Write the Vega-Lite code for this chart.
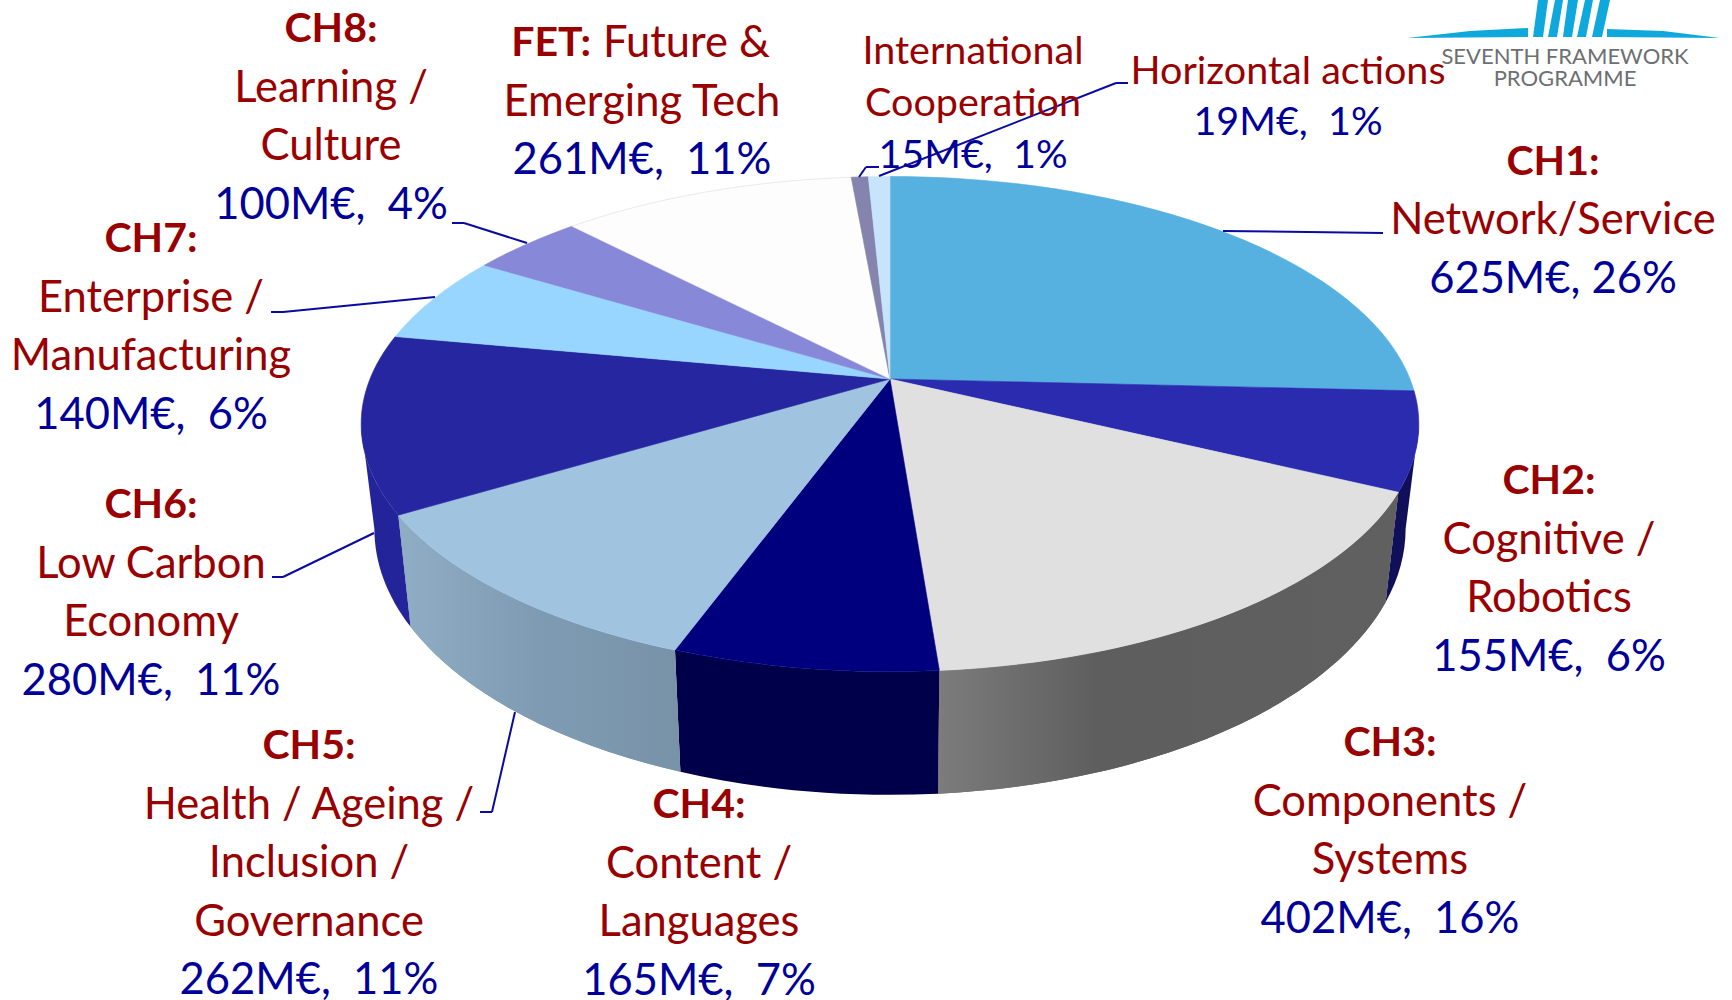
{
"$schema":"https://vega.github.io/schema/vega-lite/v6.json",
"autosize":{"type":"fit","contains":"padding"},
"width":1732,"height":1000,"padding":0,"background":"white",
"config":{"view":{"stroke":null}},
"params":[
{"name":"labelX","value":{"CH1":1553,"CH2":1549,"CH3":1390,"CH4":699,"CH5":309,"CH6":151,"CH7":151,"CH8":331,"FET":642,"FETb":591,"FETf":603,"INT":973,"HOR":1288,"LOGO":1565}},
{"name":"labelY","value":{"CH1":162.5,"CH2":482,"CH3":744,"CH4":806,"CH5":747,"CH6":506,"CH7":240,"CH8":30,"FET":44,"FETb":44,"FETf":44,"INT":52,"HOR":72,"LOGO":57}},
{"name":"leaders","value":{"CH1":[1223,231,1383,233],"CH5a":[515,712,492,812],"CH5b":[492,812,480,812],"CH6a":[374,533,283,577],"CH6b":[283,577,272,577],"CH7a":[435,297,283,312],"CH7b":[283,312,271,312],"CH8a":[527,243,464,223],"CH8b":[464,223,452,223],"INTa":[859,177,866,167],"INTb":[866,167,879,167],"HORa":[879,176,1116,83],"HORb":[1116,83,1128,83]}}
],
"datasets":{
"slices":[
{"slice":"CH1","order":1,"value":625,"share":26},
{"slice":"CH2","order":2,"value":155,"share":6},
{"slice":"CH3","order":3,"value":402,"share":16},
{"slice":"CH4","order":4,"value":165,"share":7},
{"slice":"CH5","order":5,"value":262,"share":11},
{"slice":"CH6","order":6,"value":280,"share":11},
{"slice":"CH7","order":7,"value":140,"share":6},
{"slice":"CH8","order":8,"value":100,"share":4},
{"slice":"FET","order":9,"value":261,"share":11},
{"slice":"International Cooperation","order":10,"value":15,"share":1},
{"slice":"Horizontal actions","order":11,"value":19,"share":1}
],
"labels":[
{"block":"CH1","line":0,"role":"title","text":"CH1:"},
{"block":"CH1","line":1,"role":"name","text":"Network/Service"},
{"block":"CH1","line":2,"role":"amount","text":"625M€, 26%"},
{"block":"CH2","line":0,"role":"title","text":"CH2:"},
{"block":"CH2","line":1,"role":"name","text":"Cognitive /"},
{"block":"CH2","line":2,"role":"name","text":"Robotics"},
{"block":"CH2","line":3,"role":"amount","text":"155M€,\u00a0 6%"},
{"block":"CH3","line":0,"role":"title","text":"CH3:"},
{"block":"CH3","line":1,"role":"name","text":"Components /"},
{"block":"CH3","line":2,"role":"name","text":"Systems"},
{"block":"CH3","line":3,"role":"amount","text":"402M€,\u00a0 16%"},
{"block":"CH4","line":0,"role":"title","text":"CH4:"},
{"block":"CH4","line":1,"role":"name","text":"Content /"},
{"block":"CH4","line":2,"role":"name","text":"Languages"},
{"block":"CH4","line":3,"role":"amount","text":"165M€,\u00a0 7%"},
{"block":"CH5","line":0,"role":"title","text":"CH5:"},
{"block":"CH5","line":1,"role":"name","text":"Health / Ageing /"},
{"block":"CH5","line":2,"role":"name","text":"Inclusion /"},
{"block":"CH5","line":3,"role":"name","text":"Governance"},
{"block":"CH5","line":4,"role":"amount","text":"262M€,\u00a0 11%"},
{"block":"CH6","line":0,"role":"title","text":"CH6:"},
{"block":"CH6","line":1,"role":"name","text":"Low Carbon"},
{"block":"CH6","line":2,"role":"name","text":"Economy"},
{"block":"CH6","line":3,"role":"amount","text":"280M€,\u00a0 11%"},
{"block":"CH7","line":0,"role":"title","text":"CH7:"},
{"block":"CH7","line":1,"role":"name","text":"Enterprise /"},
{"block":"CH7","line":2,"role":"name","text":"Manufacturing"},
{"block":"CH7","line":3,"role":"amount","text":"140M€,\u00a0 6%"},
{"block":"CH8","line":0,"role":"title","text":"CH8:"},
{"block":"CH8","line":1,"role":"name","text":"Learning /"},
{"block":"CH8","line":2,"role":"name","text":"Culture"},
{"block":"CH8","line":3,"role":"amount","text":"100M€,\u00a0 4%"},
{"block":"FETb","line":0,"role":"title","text":"FET:"},
{"block":"FETf","line":0,"role":"name","text":"Future &"},
{"block":"FET","line":1,"role":"name","text":"Emerging Tech"},
{"block":"FET","line":2,"role":"amount","text":"261M€,\u00a0 11%"},
{"block":"INT","line":0,"role":"name","text":"International"},
{"block":"INT","line":1,"role":"name","text":"Cooperation"},
{"block":"INT","line":2,"role":"amount","text":"15M€,\u00a0 1%"},
{"block":"HOR","line":0,"role":"name","text":"Horizontal actions"},
{"block":"HOR","line":1,"role":"amount","text":"19M€,\u00a0 1%"},
{"block":"LOGO","line":0,"role":"logo","text":"SEVENTH FRAMEWORK"},
{"block":"LOGO","line":1,"role":"logo","text":"PROGRAMME"}
],
"segments":[{"s":"CH1"},{"s":"CH5a"},{"s":"CH5b"},{"s":"CH6a"},{"s":"CH6b"},{"s":"CH7a"},{"s":"CH7b"},{"s":"CH8a"},{"s":"CH8b"},{"s":"INTa"},{"s":"INTb"},{"s":"HORa"},{"s":"HORb"}],
"logo":[{"part":"emblem"}]
},
"data":{"name":"slices"},
"transform":[
{"window":[{"op":"sum","field":"value","as":"end"}],"sort":[{"field":"order","order":"ascending"}]},
{"joinaggregate":[{"op":"sum","field":"value","as":"total"}]},
{"calculate":"2*PI*(datum.end-datum.value)/datum.total","as":"a1"},
{"calculate":"2*PI*datum.end/datum.total","as":"a2"}
],
"layer":[
{
"transform":[
{"calculate":"max(datum.a1,1.7538)","as":"w1"},
{"calculate":"min(datum.a2,4.5294)","as":"w2"},
{"filter":"datum.w1<datum.w2"},
{"calculate":"520*sin(datum.w1)/(1+0.182*cos(datum.w1))","as":"x1"},
{"calculate":"-247.5*(cos(datum.w1)+0.182)/(1+0.182*cos(datum.w1))","as":"y1"},
{"calculate":"520*sin(datum.w2)/(1+0.182*cos(datum.w2))","as":"x2"},
{"calculate":"-247.5*(cos(datum.w2)+0.182)/(1+0.182*cos(datum.w2))","as":"y2"},
{"calculate":"'M'+round(datum.x1*100)/100+' '+round(datum.y1*100)/100+'A529 247.5 0 0 1 '+round(datum.x2*100)/100+' '+round(datum.y2*100)/100+'L'+round(datum.x2*97.5)/100+' '+round((datum.y2*1.074+105)*100)/100+'A516 266 0 0 0 '+round(datum.x1*97.5)/100+' '+round((datum.y1*1.074+105)*100)/100+'Z'","as":"wallPath"}
],
"layer":[
{
"mark":{"type":"point","filled":true,"opacity":1,"x":890,"y":424,"size":4},
"encoding":{
"shape":{"field":"wallPath","type":"nominal","scale":null},
"fill":{"field":"slice","type":"nominal","legend":null,"scale":{"domain":["CH2","CH3","CH4","CH5","CH6"],"range":["#10105A","#646464","#00004A","#829CB2","#23239A"]}}
}
},
{
"transform":[{"filter":"datum.slice=='CH3'"}],
"mark":{"type":"point","filled":true,"opacity":1,"x":890,"y":424,"size":4,"fill":{"gradient":"linear","x1":0,"y1":0,"x2":1,"y2":0,"stops":[{"offset":0,"color":"#7C7C7C"},{"offset":0.35,"color":"#5E5E5E"},{"offset":1,"color":"#606060"}]}},
"encoding":{"shape":{"field":"wallPath","type":"nominal","scale":null}}
},
{
"transform":[{"filter":"datum.slice=='CH5'"}],
"mark":{"type":"point","filled":true,"opacity":1,"x":890,"y":424,"size":4,"fill":{"gradient":"linear","x1":0,"y1":0,"x2":1,"y2":0,"stops":[{"offset":0,"color":"#8FADC4"},{"offset":0.5,"color":"#7F9BB3"},{"offset":1,"color":"#7893A8"}]}},
"encoding":{"shape":{"field":"wallPath","type":"nominal","scale":null}}
}
]
},
{
"transform":[
{"calculate":"520*sin(datum.a1)/(1+0.182*cos(datum.a1))","as":"x1"},
{"calculate":"-247.5*(cos(datum.a1)+0.182)/(1+0.182*cos(datum.a1))","as":"y1"},
{"calculate":"520*sin(datum.a2)/(1+0.182*cos(datum.a2))","as":"x2"},
{"calculate":"-247.5*(cos(datum.a2)+0.182)/(1+0.182*cos(datum.a2))","as":"y2"},
{"calculate":"'M0 -45L'+round(datum.x1*100)/100+' '+round(datum.y1*100)/100+'A529 247.5 0 0 1 '+round(datum.x2*100)/100+' '+round(datum.y2*100)/100+'Z'","as":"topPath"}
],
"mark":{"type":"point","filled":true,"opacity":1,"x":890,"y":424,"size":4,"strokeWidth":0.6},
"encoding":{
"shape":{"field":"topPath","type":"nominal","scale":null},
"color":{"field":"slice","type":"nominal","legend":null,"scale":{"domain":["CH1","CH2","CH3","CH4","CH5","CH6","CH7","CH8","FET","International Cooperation","Horizontal actions"],"range":["#56B0E0","#2B2BB0","#E0E0E0","#00007F","#A0C4E0","#2626A0","#99D6FF","#8888D8","#FDFDFD","#8484AE","#C8E4FC"]}},
"stroke":{"field":"slice","type":"nominal","legend":null,"scale":{"domain":["CH1","CH2","CH3","CH4","CH5","CH6","CH7","CH8","FET","International Cooperation","Horizontal actions"],"range":["#56B0E0","#2B2BB0","#E0E0E0","#00007F","#A0C4E0","#2626A0","#99D6FF","#8888D8","#DCDCDC","#8484AE","#C8E4FC"]}}
}
},
{
"data":{"name":"segments"},
"transform":[],
"mark":{"type":"rule","color":"#0A0AA0","strokeWidth":2},
"encoding":{
"x":{"value":{"expr":"leaders[datum.s][0]"}},
"y":{"value":{"expr":"leaders[datum.s][1]"}},
"x2":{"value":{"expr":"leaders[datum.s][2]"}},
"y2":{"value":{"expr":"leaders[datum.s][3]"}}
}
},
{
"data":{"name":"labels"},
"transform":[{"filter":"datum.role!='title'"}],
"mark":{"type":"text","font":"Lato",
"x":{"expr":"labelX[datum.block]"},
"y":{"expr":"labelY[datum.block]+(datum.block=='INT'?52:datum.block=='HOR'?51:datum.block=='LOGO'?22:58.6)*datum.line"},
"align":{"expr":"datum.block=='FETf'?'left':'center'"},
"fontSize":{"expr":"datum.block=='LOGO'?22:datum.block=='INT'||datum.block=='HOR'?39.5:43.5"}},
"encoding":{
"text":{"field":"text","type":"nominal"},
"color":{"field":"role","type":"nominal","legend":null,"scale":{"domain":["name","amount","logo"],"range":["#990000","#000099","#6D6F72"]}}
}
},
{
"data":{"name":"labels"},
"transform":[{"filter":"datum.role=='title'"}],
"mark":{"type":"text","font":"Lato","fontWeight":"bold","fontSize":41,"color":"#990000",
"x":{"expr":"labelX[datum.block]"},
"y":{"expr":"labelY[datum.block]"},
"align":{"expr":"datum.block=='FETb'?'right':'center'"}},
"encoding":{"text":{"field":"text","type":"nominal"}}
},
{
"data":{"name":"logo"},
"transform":[],
"mark":{"type":"point","filled":true,"opacity":1,"color":"#0FA8DC","x":0,"y":0,"size":4,
"shape":"M1538 0L1548 0L1543 37L1533 37ZM1555 0L1563 0L1557 37L1548 37ZM1568 0L1578 0L1572 37L1563 37ZM1585 0L1593 0L1586 37L1577 37ZM1600 0L1610 0L1602 37L1592 37ZM1407 38L1470 31L1528 28L1528 37ZM1607 29L1663 31L1720 38L1607 37Z"},
"encoding":{}
}
],
"resolve":{"scale":{"color":"independent","fill":"independent"}}
}
